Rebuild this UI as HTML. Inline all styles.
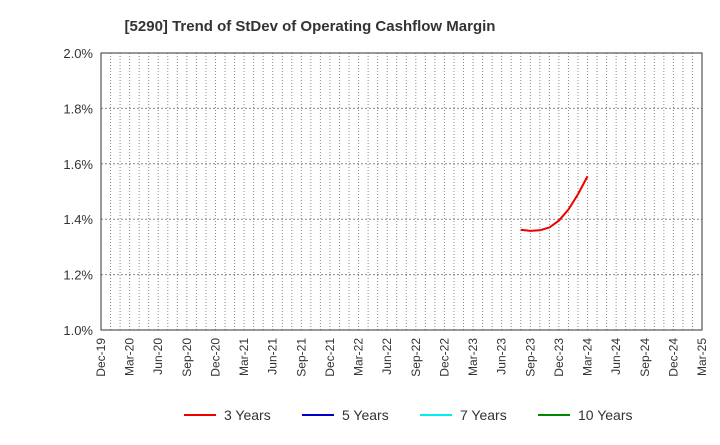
<!DOCTYPE html>
<html><head><meta charset="utf-8"><style>
body{margin:0;background:#fff;font-family:"Liberation Sans",Arial,sans-serif;}
</style></head><body>
<svg id="c" width="720" height="440" xmlns="http://www.w3.org/2000/svg">
<text x="310" y="31" text-anchor="middle" font-size="15" font-weight="bold" fill="#333">[5290]  Trend of StDev of Operating Cashflow Margin</text>
<g id="grid"></g><g id="axes"></g><g id="series"></g>
<g id="legend"></g>
</svg>
<script>
const xLabels=["Dec-19","Mar-20","Jun-20","Sep-20","Dec-20","Mar-21","Jun-21","Sep-21","Dec-21","Mar-22","Jun-22","Sep-22","Dec-22","Mar-23","Jun-23","Sep-23","Dec-23","Mar-24","Jun-24","Sep-24","Dec-24","Mar-25"];
const yTicks=[1.0,1.2,1.4,1.6,1.8,2.0];
const s3Months=[44,45,46,47,48,49,50,51];
const s3Values=[1.362,1.358,1.360,1.370,1.395,1.435,1.490,1.555];
const L=101,R=702,T=53,B=330,NM=63,yMin=1.0,yMax=2.0;
const xs=m=>L+(R-L)*m/NM, ys=v=>B-(B-T)*(v-yMin)/(yMax-yMin);
const NS="http://www.w3.org/2000/svg";
function mk(t,a,p){const e=document.createElementNS(NS,t);for(const k in a)e.setAttribute(k,a[k]);p.appendChild(e);return e;}
const g=document.getElementById('grid'),ax=document.getElementById('axes'),se=document.getElementById('series'),lg=document.getElementById('legend');
for(let m=1;m<NM;m++){const l=mk('line',{x1:xs(m),x2:xs(m),y1:T,y2:B,stroke:'#888','stroke-width':1,'stroke-dasharray':'1,2'},g);

}
yTicks.forEach(v=>{const y=ys(v);
if(v>yMin&&v<yMax){const l=mk('line',{x1:L,x2:R,y1:y,y2:y,stroke:'#888','stroke-width':1,'stroke-dasharray':'2,2'},g);

}
const t=mk('text',{x:L-8,y:y+5,'text-anchor':'end','font-size':13,fill:'#333'},ax);t.textContent=v.toFixed(1)+'%';

});
const f=mk('rect',{x:L,y:T,width:R-L,height:B-T,fill:'none',stroke:'#333','stroke-width':1},ax);


xLabels.forEach((s,i)=>{const x=xs(i*3);
const t=mk('text',{transform:`translate(${x+4},${B+8}) rotate(-90)`,'text-anchor':'end','font-size':12,fill:'#333'},ax);t.textContent=s;

});
const p=mk('polyline',{points:s3Months.map((m,i)=>xs(m)+','+ys(s3Values[i])).join(' '),fill:'none',stroke:'#e00','stroke-width':2},se);


const leg=[["3 Years","#e00",184],["5 Years","#00c",302],["7 Years","#0ee",420],["10 Years","#080",538]];
leg.forEach(([n,c,x])=>{const gi=mk('g',{},lg);


mk('line',{x1:x,x2:x+32,y1:415,y2:415,stroke:c,'stroke-width':2},gi);
const t=mk('text',{x:x+40,y:420,'font-size':14,fill:'#333'},gi);t.textContent=n;});
</script>
</body></html>
